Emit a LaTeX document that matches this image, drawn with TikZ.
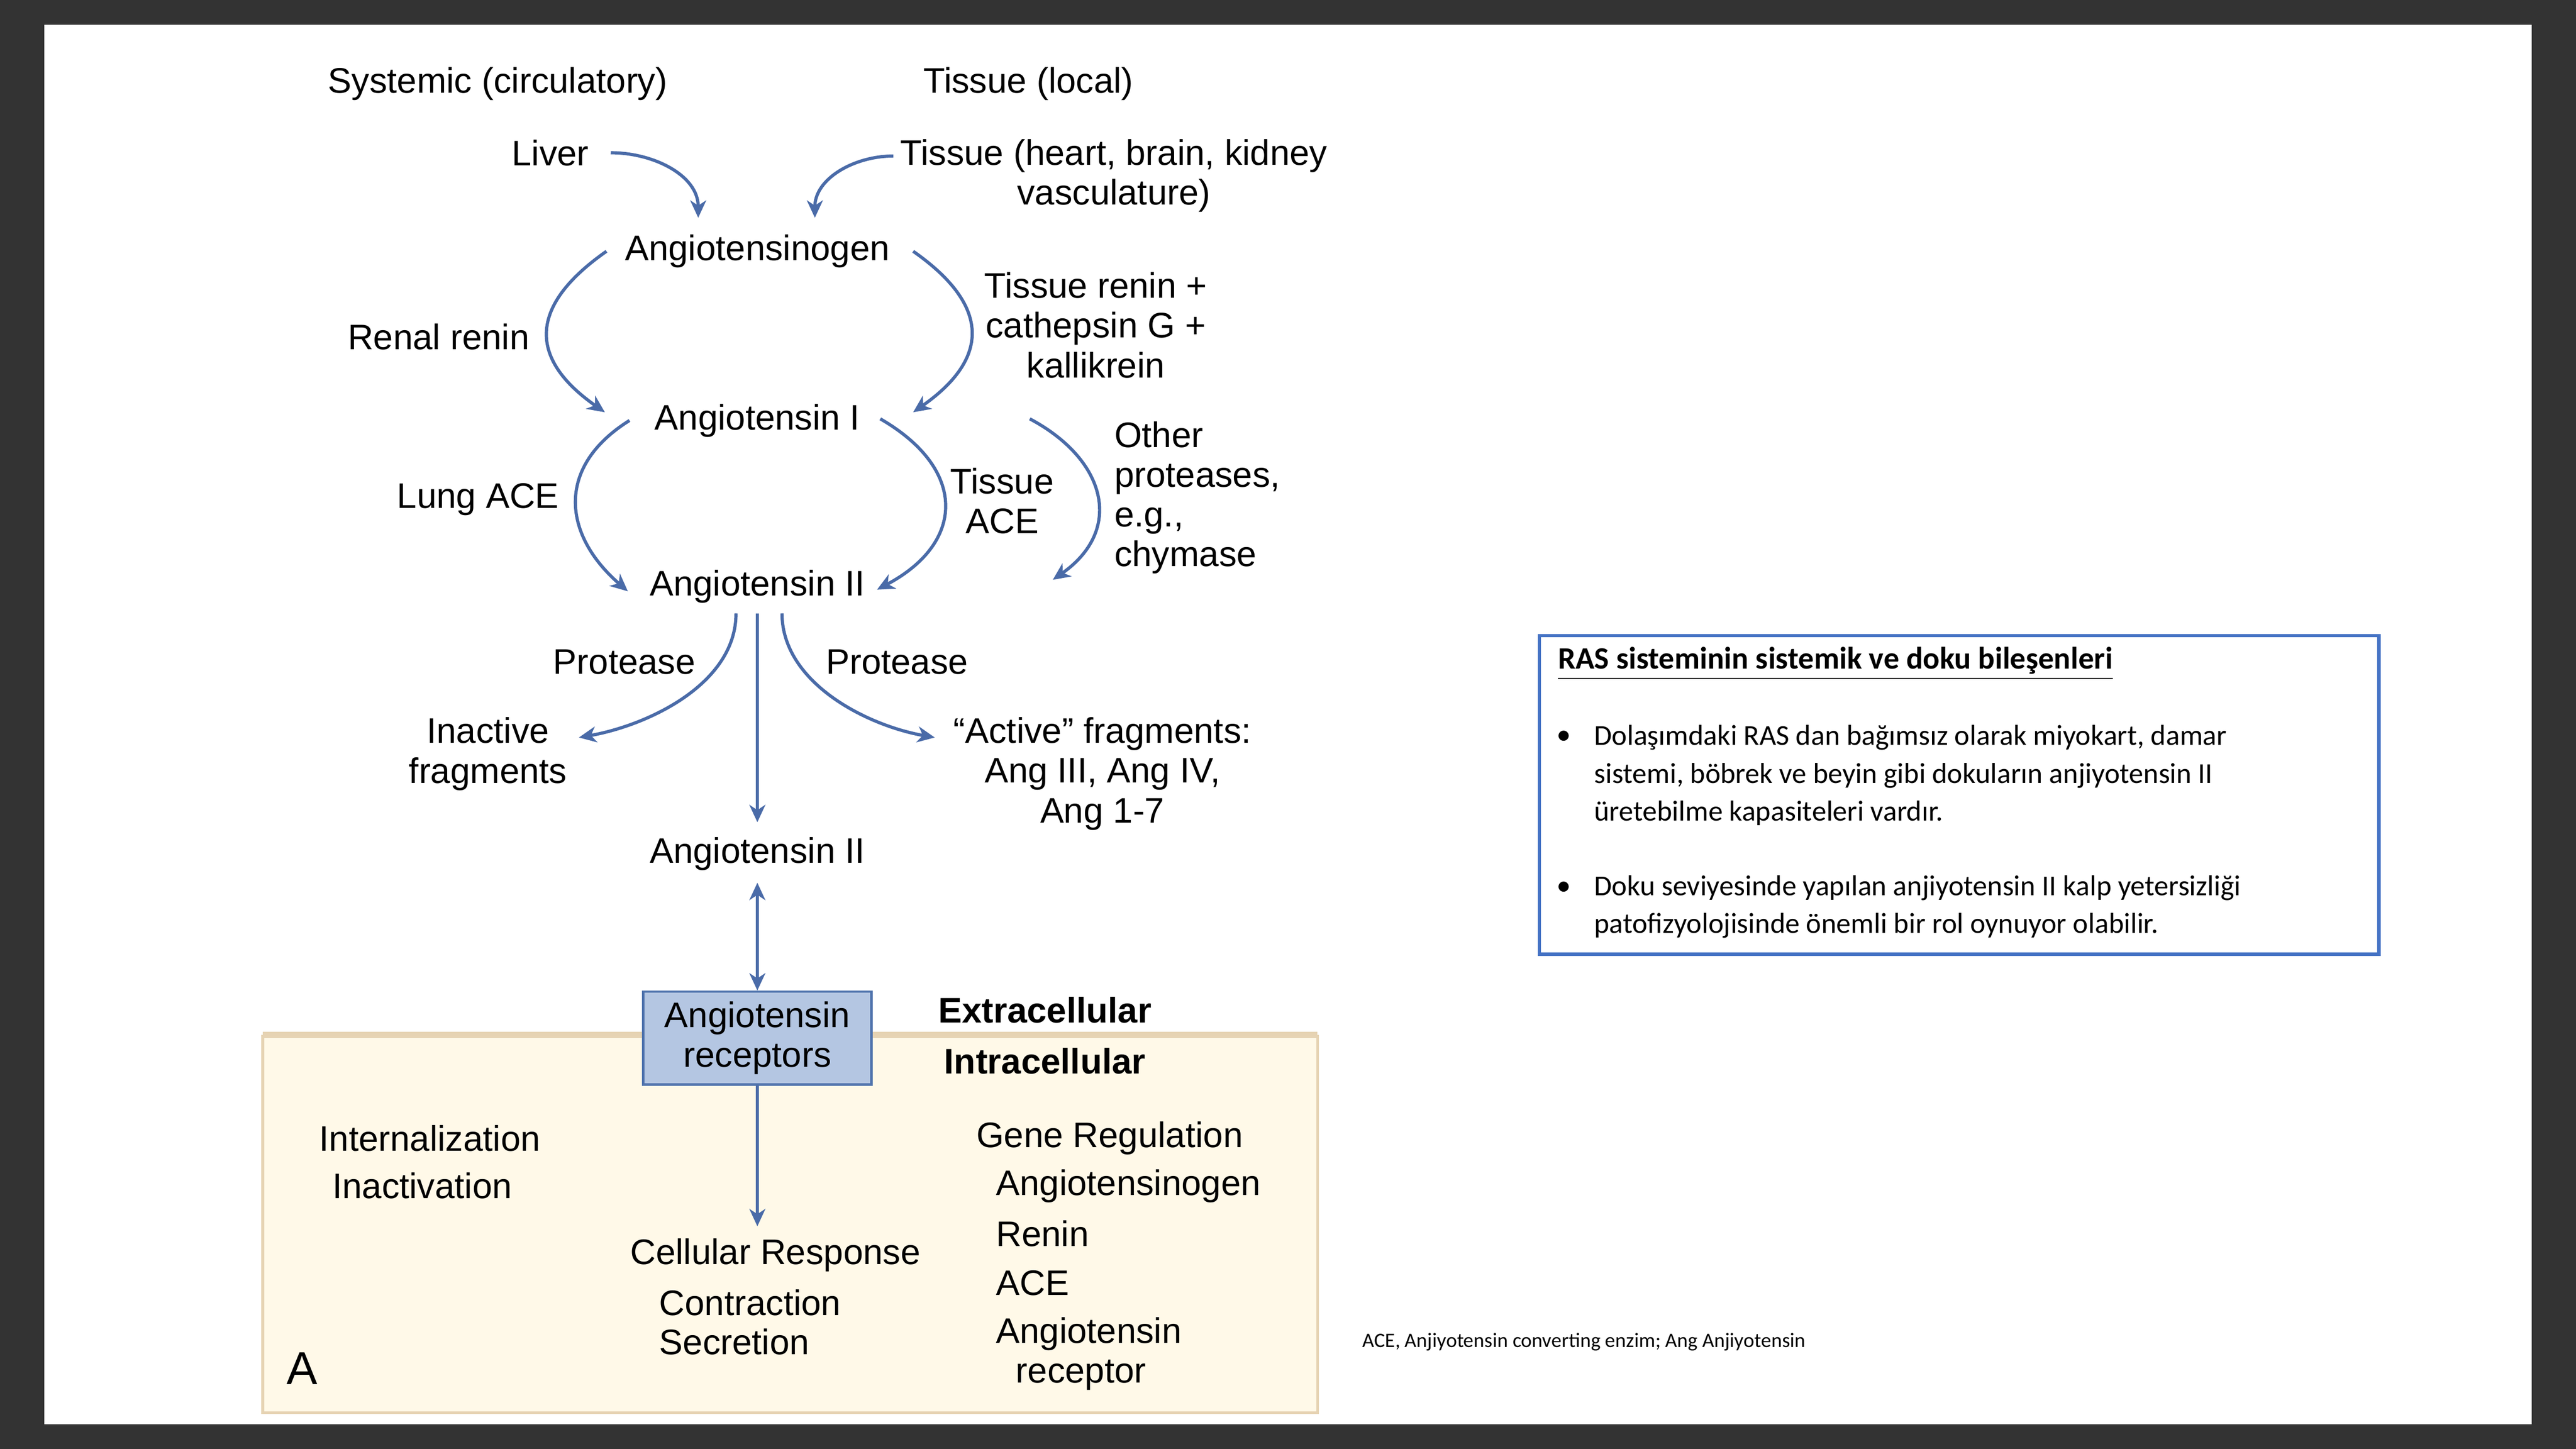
\documentclass[tikz,border=0pt]{standalone}
\usepackage{fontspec}
\setmainfont{Liberation Sans}
\newfontfamily\calib{Carlito}
\usetikzlibrary{arrows.meta,calc}
\definecolor{bgdark}{HTML}{333333}
\definecolor{arrowblue}{HTML}{4A6BA8}
\definecolor{recfill}{HTML}{B4C6E2}
\definecolor{recline}{HTML}{4E72AC}
\definecolor{cellfill}{HTML}{FFF9E8}
\definecolor{cellline}{HTML}{E6D3B3}
\definecolor{boxline}{HTML}{4472C4}
\begin{document}
\begin{tikzpicture}[x=0.02cm,y=0.02cm,>={Stealth[length=6pt,width=5.5pt,inset=1.8pt]},
  lbl/.style={inner sep=0pt,align=center,font=\fontsize{12.3}{13.8}\selectfont},
  lft/.style={lbl,anchor=west,align=left},
  recbox/.style={lbl,draw=recline,fill=recfill,line width=0.8pt,minimum width=2.78cm,minimum height=1.13cm},
  flow/.style={draw=arrowblue,line width=1.1pt,->},
  note/.style={inner sep=0pt,anchor=west,align=left,font=\calib\fontsize{10}{13.1}\selectfont}]

      % frame of the slide
      \fill[bgdark] (0,0) rectangle (1568,882);
      \fill[white] (27,15) rectangle (1541,867);

      % cell
      \fill[cellfill] (160,22) rectangle (802,252);
      \draw[cellline,line width=1pt] (160,252) -- (160,22) -- (802,22) -- (802,252);
      \draw[cellline,line width=2pt] (160,252) -- (802,252);

      \path (303,831) node[lbl] (sys) {Systemic (circulatory)};
      \path (626,831) node[lbl] (loc) {Tissue (local)};
      \path (335,789) node[lbl] (liver) {Liver};
      \path (678,775) node[lbl] (tis) {Tissue (heart, brain, kidney\\vasculature)};
      \path (461,729) node[lbl] (agen) {Angiotensinogen};
      \path (267,677) node[lbl] (renal) {Renal renin};
      \path (667,684) node[lbl] (trenin) {Tissue renin +\\cathepsin G +\\kallikrein};
      \path (461,626) node[lbl] (a1) {Angiotensin I};
      \path (291,578) node[lbl] (lung) {Lung ACE};
      \path (610,577) node[lbl] (tace) {Tissue\\ACE};
      \path (678,579) node[lft] (other) {Other\\proteases,\\e.g.,\\chymase};
      \path (461,525) node[lbl] (a2) {Angiotensin II};
      \path (380,479) node[lbl] (prl) {Protease};
      \path (546,479) node[lbl] (prr) {Protease};
      \path (297,423) node[lbl] (inact) {Inactive\\fragments};
      \path (671,411) node[lbl] (act) {“Active” fragments:\\Ang III, Ang IV,\\Ang 1-7};
      \path (461,362) node[lbl] (a2b) {Angiotensin II};

      \path (461,250) node[recbox] (rec) {Angiotensin\\receptors};
      \path (636,267) node[lbl,font=\fontsize{12.3}{13.8}\selectfont\bfseries] (extra) {Extracellular};
      \path (636,236) node[lbl,font=\fontsize{12.3}{13.8}\selectfont\bfseries] (intra) {Intracellular};

      \path (194,189) node[lft] (intern) {Internalization};
      \path (202,160) node[lft] (inactv) {Inactivation};
      \path (472,118) node[lbl] (cresp) {Cellular Response};
      \path (401,89) node[lft] (contr) {Contraction};
      \path (401,65) node[lft] (secr) {Secretion};
      \path (594,189) node[lft] (gene) {Gene Regulation};
      \path (606,160) node[lft] (g1) {Angiotensinogen};
      \path (606,131) node[lft] (g2) {Renin};
      \path (606,101) node[lft] (g3) {ACE};
      \path (606,70) node[lft] (g4) {Angiotensin};
      \path (618,45) node[lft] (g5) {receptor};
      \path (184,49) node[lbl,font=\fontsize{16}{18}\selectfont] (pa) {A};

      \draw[flow] ($(liver.east)+(13,0)$) to[out=0,in=90] ($(agen.north)+(-36,10)$);
      \draw[flow] ($(tis.west)+(-4,12)$) to[out=180,in=90] ($(agen.north)+(35,10)$);
      \draw[flow] ($(agen.west)+(-11,0)$) to[out=215,in=145,looseness=1.5] ($(a1.west)+(-30,5)$);
      \draw[flow] ($(agen.east)+(14,0)$) to[out=-35,in=35,looseness=1.5] ($(a1.east)+(32,5)$);
      \draw[flow] ($(a1.west)+(-15,0)$) to[out=212,in=139,looseness=1.3] ($(a2.west)+(-13,-3)$);
      \draw[flow] ($(a1.east)+(12,1)$) to[out=-30,in=28,looseness=1.5] ($(a2.east)+(7,-2)$);
      \draw[flow] ($(a1.east)+(103,1)$) to[out=-28,in=35,looseness=1.37] ($(a2.east)+(114,4)$);
      \draw[flow] ($(a2.south)+(-13,-6)$) to[out=-90,in=10,looseness=0.9] ($(inact.east)+(7,10)$);
      \draw[flow] ($(a2.south)+(15,-6)$) to[out=-90,in=170,looseness=0.9] ($(act.west)+(-11,22)$);
      \draw[flow] ($(a2.south)+(0,-6)$) -- ($(a2b.north)+(0,9)$);
      \draw[flow,<->] ($(a2b.south)+(0,-7)$) -- (rec.north);
      \draw[flow] (rec.south) -- ($(rec.south |- cresp.north)+(0,7)$);

      % side note
      \draw[boxline,line width=1.2pt] (937,301) rectangle (1448,495);
      \path (948,478) node[note,font=\calib\fontsize{10.8}{13}\selectfont\bfseries] (title) {\underline{RAS sisteminin sistemik ve doku bileşenleri}};
      \path (952,433) node[note,anchor=center] (d1) {•};
      \path (970,410) node[note] (t1) {Dolaşımdaki RAS dan bağımsız olarak miyokart, damar\\sistemi, böbrek ve beyin gibi dokuların anjiyotensin II\\üretebilme kapasiteleri vardır.};
      \path (952,341) node[note,anchor=center] (d2) {•};
      \path (970,330) node[note] (t2) {Doku seviyesinde yapılan anjiyotensin II kalp yetersizliği\\patofizyolojisinde önemli bir rol oynuyor olabilir.};
      \path (829,65) node[note,font=\calib\fontsize{7.1}{8}\selectfont] (foot) {ACE, Anjiyotensin converting enzim; Ang Anjiyotensin};
   \end{tikzpicture}
\end{document}
